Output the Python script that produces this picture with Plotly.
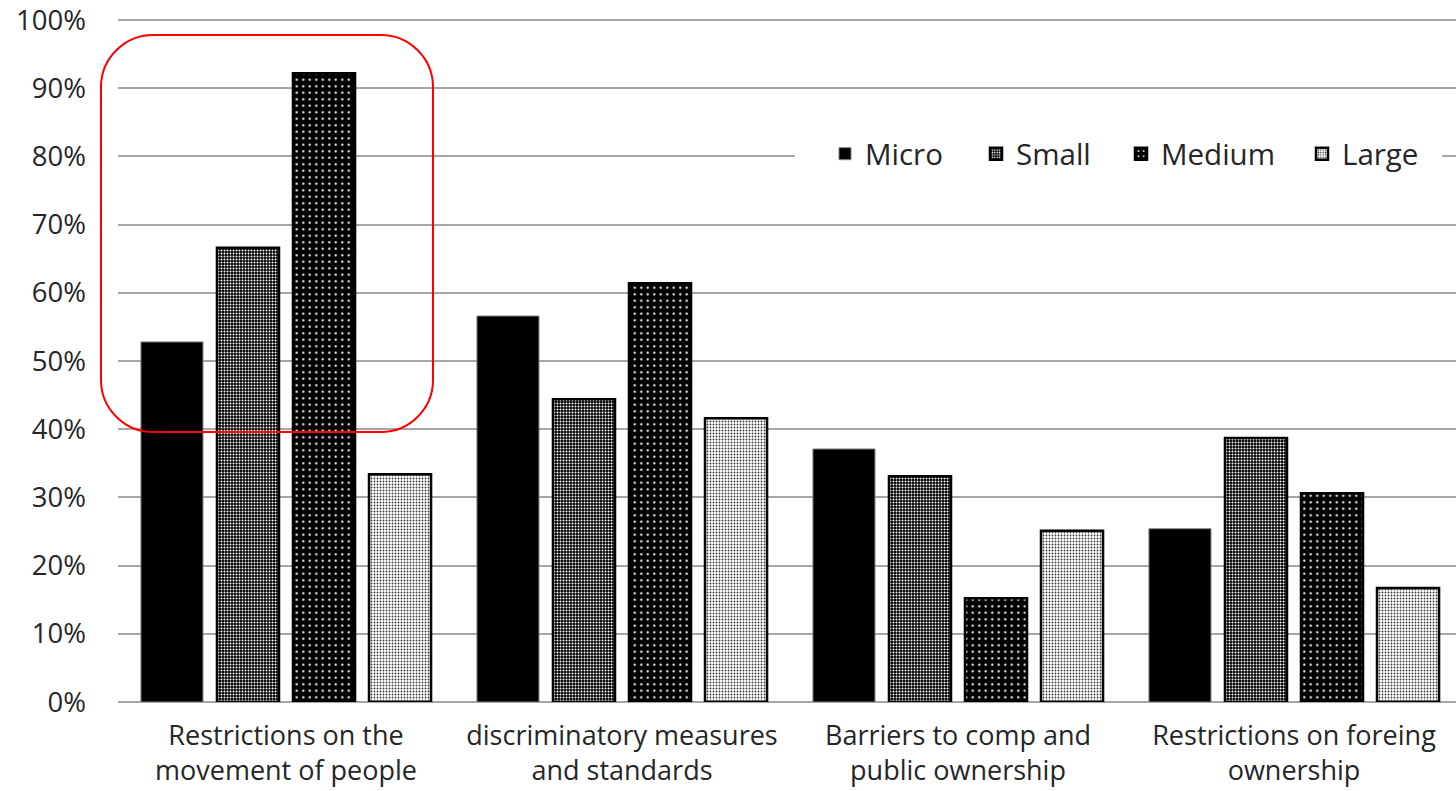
import plotly.graph_objects as go

categories = ["Restrictions on the<br>movement of people",
              "discriminatory measures<br>and standards",
              "Barriers to comp and<br>public ownership",
              "Restrictions on foreing<br>ownership"]
series_names = ["Micro", "Small", "Medium", "Large"]
micro = [0.528, 0.566, 0.371, 0.254]
small = [0.666, 0.444, 0.331, 0.387]
medium = [0.922, 0.614, 0.152, 0.306]
large = [0.334, 0.416, 0.251, 0.167]
y_ticks = [0, 0.1, 0.2, 0.3, 0.4, 0.5, 0.6, 0.7, 0.8, 0.9, 1.0]
y_tick_labels = ["0%", "10%", "20%", "30%", "40%", "50%", "60%", "70%", "80%", "90%", "100%"]

# page body margin is removed by the post script, so layout is in screen pixels
W, H = 1456, 791
PL, PT, PB = 118, 20, 702          # plot left/top/bottom on screen
YMAX = 1.003
ML = PL
MB = H - PB
PH = (PB - PT) * YMAX
MT = H - MB - PH
MR = 0
PW = W - ML - MR
CAT_PX = 336.0
xr = [-0.5, -0.5 + PW / CAT_PX]

FONT = "Open Sans"
TXT = "#262626"


def px(X):
    return (X - PL) / PW


def py(Y):
    return (PB - Y) / PH


def xd(X):
    return -0.5 + (X - PL) / CAT_PX


fig = go.Figure()
styles = [
    dict(color="black", line=dict(color="#7f7f7f", width=1)),
    dict(color="black", line=dict(color="black", width=2.5),
         pattern=dict(shape=".", fgcolor="white", bgcolor="black",
                      size=3, solidity=0.35, fillmode="replace")),
    dict(color="black", line=dict(color="black", width=2.5),
         pattern=dict(shape=".", fgcolor="white", bgcolor="black",
                      size=6.5, solidity=0.1, fillmode="replace")),
    dict(color="white", line=dict(color="black", width=2.5),
         pattern=dict(shape=".", fgcolor="#3a3a3a", bgcolor="white",
                      size=3, solidity=0.3, fillmode="replace")),
]
legend_ids = ["legend", "legend2", "legend3", "legend4"]
for name, vals, st, lg in zip(series_names, [micro, small, medium, large], styles, legend_ids):
    fig.add_trace(go.Bar(name=name, x=categories, y=vals, marker=st, legend=lg))

# white band hiding the gridline behind the legend
fig.add_shape(type="rect", xref="x", yref="y", layer="between",
              x0=xd(795), x1=xd(1442), y0=(PB - 170) / (PB - PT), y1=(PB - 138) / (PB - PT),
              fillcolor="white", line=dict(width=0))

# rounded highlight box
x0, x1, y0, y1, r = 101, 433, 35, 432, 52
k = 0.45
path = (
    f"M {px(x0 + r)},{py(y0)} L {px(x1 - r)},{py(y0)} "
    f"C {px(x1 - r * k)},{py(y0)} {px(x1)},{py(y0 + r * k)} {px(x1)},{py(y0 + r)} "
    f"L {px(x1)},{py(y1 - r)} "
    f"C {px(x1)},{py(y1 - r * k)} {px(x1 - r * k)},{py(y1)} {px(x1 - r)},{py(y1)} "
    f"L {px(x0 + r)},{py(y1)} "
    f"C {px(x0 + r * k)},{py(y1)} {px(x0)},{py(y1 - r * k)} {px(x0)},{py(y1 - r)} "
    f"L {px(x0)},{py(y0 + r)} "
    f"C {px(x0)},{py(y0 + r * k)} {px(x0 + r * k)},{py(y0)} {px(x0 + r)},{py(y0)} Z"
)
fig.add_shape(type="path", path=path, xref="paper", yref="paper",
              line=dict(color="red", width=2), fillcolor="rgba(0,0,0,0)")

text_starts = [866, 1017, 1162, 1343]
legends = {}
for lg, ts in zip(legend_ids, text_starts):
    legends[lg] = dict(orientation="h", x=px(ts - 41), xanchor="left",
                       y=py(154), yanchor="middle", bgcolor="rgba(0,0,0,0)",
                       font=dict(family=FONT, size=29.5, color=TXT))

fig.update_layout(
    width=W, height=H,
    margin=dict(l=ML, r=MR, t=MT, b=MB, autoexpand=False),
    paper_bgcolor="white", plot_bgcolor="white",
    barmode="group", bargap=0.095, bargroupgap=0.184,
    font=dict(family=FONT, size=28, color=TXT),
    showlegend=True,
    xaxis=dict(range=xr, showgrid=False, showline=False, zeroline=False,
               tickfont=dict(size=27, color=TXT), ticklabelstandoff=15),
    yaxis=dict(range=[0, YMAX], tickvals=y_ticks, ticktext=y_tick_labels,
               showgrid=True, gridcolor="#a6a6a6", gridwidth=1.5,
               zeroline=True, zerolinecolor="#a6a6a6", zerolinewidth=1.5,
               showline=False, tickfont=dict(size=27.5, color=TXT),
               ticklabelstandoff=31, ticklabeloverflow="allow"),
    **legends,
)

fig.write_html("out.html",
               config={"displayModeBar": False},
               post_script="document.body.style.margin='0';document.body.style.overflow='hidden';")
